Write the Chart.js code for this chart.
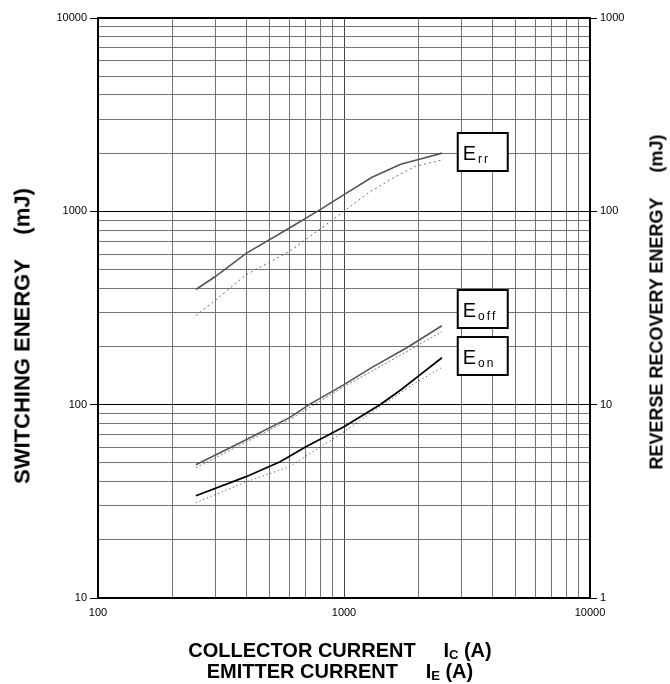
<!DOCTYPE html>
<html>
<head>
<meta charset="utf-8">
<title>Switching energy vs collector current</title>
<script src="https://cdn.jsdelivr.net/npm/chart.js@4.4.1/dist/chart.umd.min.js"></script>
<style>
  html, body { margin: 0; padding: 0; background: #fff; }
  #wrap { position: relative; width: 670px; height: 684px; font-family: "Liberation Sans", Arial, sans-serif; color: #000; }
  #chart { position: absolute; left: 0; top: 0; }
  .title { position: absolute; font-weight: bold; white-space: nowrap; font-size: 18px; line-height: 21px; }
  .rot { transform: translate(-50%, -50%) rotate(-90deg); }
  .xt { transform: translateX(-50%); font-size: 20px; }
  .title sub { font-size: 13px; vertical-align: -2px; }
</style>
</head>
<body>
<div id="wrap">
  <canvas id="chart" width="670" height="684"></canvas>
  <div class="title rot" style="left:22px; top:336px; font-size:22px;">SWITCHING ENERGY&nbsp;&nbsp;&nbsp;&nbsp;(mJ)</div>
  <div class="title rot" style="left:657px; top:302px;">REVERSE RECOVERY ENERGY&nbsp;&nbsp;&nbsp;&nbsp;&nbsp;(mJ)</div>
  <div class="title xt" style="left:340px; top:640px;">COLLECTOR CURRENT&nbsp;&nbsp;&nbsp;&nbsp;&nbsp;I<sub>C</sub> (A)</div>
  <div class="title xt" style="left:340px; top:661px;">EMITTER CURRENT&nbsp;&nbsp;&nbsp;&nbsp;&nbsp;I<sub>E</sub> (A)</div>
</div>
<script>
// Tick labels (major decades)
const xTickLabels = [100, 1000, 10000];
const leftTickLabels = [10, 100, 1000, 10000];
const rightTickLabels = [1, 10, 100, 1000];

// Err (reverse recovery energy, right axis, mJ)
const errSolidCurrent = [250, 300, 400, 600, 800, 1000, 1300, 1700, 2100, 2500];
const errSolidEnergy  = [39.4, 46, 60.6, 82, 102, 122, 150, 175, 188, 200];
const errDotCurrent   = [250, 300, 400, 600, 800, 1000, 1250, 1550, 1950, 2500];
const errDotEnergy    = [28.9, 34.7, 47, 62, 81, 100, 124, 146.5, 171, 184];

// Eoff (switching energy, left axis, mJ)
const eoffSolidCurrent = [250, 400, 600, 730, 1000, 1300, 1800, 2500];
const eoffSolidEnergy  = [48.9, 65.9, 85.7, 101, 127, 156, 197, 256];
const eoffDotCurrent   = [250, 400, 600, 1000, 1800, 2500];
const eoffDotEnergy    = [47.2, 64, 83.6, 124, 188, 239];

// Eon (switching energy, left axis, mJ)
const eonSolidCurrent = [250, 400, 550, 700, 1000, 1400, 1700, 2000, 2500];
const eonSolidEnergy  = [33.8, 42.4, 50.7, 60.6, 76.9, 100, 119, 140, 175];
const eonDotCurrent   = [250, 400, 600, 1000, 1400, 1900, 2500];
const eonDotEnergy    = [31.1, 39.9, 47.7, 72.4, 97.7, 127, 156];

const FONT = '"Liberation Sans", Arial, sans-serif';

function points(xs, ys) {
    return xs.map((x, i) => ({ x, y: ys[i] }));
}

// all 1..9 multiples between min and max, for the log grid
function logTicks(min, max) {
    const out = [];
    for (let d = min; d < max; d *= 10) {
        for (let m = 1; m < 10; m++) out.push({ value: m * d });
    }
    out.push({ value: max });
    return out;
}

function line(label, xs, ys, color, width, dash, axis) {
    return {
        label,
        data: points(xs, ys),
        borderColor: color,
        borderWidth: width,
        borderDash: dash,
        pointRadius: 0,
        fill: false,
        tension: 0,
        yAxisID: axis
    };
}

// frame round the plot area
const framePlugin = {
    id: 'frame',
    beforeDatasetsDraw(chart) {
        const { ctx, chartArea: a } = chart;
        ctx.save();
        ctx.strokeStyle = '#000';
        ctx.lineWidth = 2;
        ctx.strokeRect(a.left, a.top, a.right - a.left, a.bottom - a.top);
        ctx.restore();
    }
};

// boxed curve names E_rr, E_off, E_on
const namePlugin = {
    id: 'names',
    afterDatasetsDraw(chart) {
        const { ctx, scales } = chart;
        const names = [['rr', 2030], ['off', 314], ['on', 178]];
        const left = scales.x.getPixelForValue(2900);
        ctx.save();
        names.forEach(([sub, v]) => {
            const cy = scales.y.getPixelForValue(v);
            const top = Math.round(cy - 19);
            ctx.fillStyle = '#fff';
            ctx.fillRect(left, top, 50, 38);
            ctx.strokeStyle = '#000';
            ctx.lineWidth = 2;
            ctx.strokeRect(left, top, 50, 38);
            ctx.fillStyle = '#000';
            ctx.font = '20px ' + FONT;
            ctx.textBaseline = 'alphabetic';
            ctx.fillText('E', left + 5, cy + 8);
            let sx = left + 5 + ctx.measureText('E').width + 2;
            ctx.font = '12px ' + FONT;
            for (const ch of sub) {
                ctx.fillText(ch, sx, cy + 11);
                sx += ctx.measureText(ch).width + 2;
            }
        });
        ctx.restore();
    }
};

function gridColor(majors, majorColor) {
    return c => (c.tick && majors.includes(c.tick.value)) ? majorColor : '#747474';
}
function tickColor(majors) {
    return c => (c.tick && majors.includes(c.tick.value)) ? '#000' : 'rgba(0,0,0,0)';
}
function tickLabel(majors) {
    return v => majors.includes(v) ? String(v) : '';
}

const tickFont = { family: FONT, size: 11 };

new Chart(document.getElementById('chart'), {
    type: 'line',
    data: {
        datasets: [
            line('Err', errSolidCurrent, errSolidEnergy, '#555', 1.6, [], 'y2'),
            line('Err (typ)', errDotCurrent, errDotEnergy, '#666', 1, [2, 3], 'y2'),
            line('Eoff', eoffSolidCurrent, eoffSolidEnergy, '#555', 1.6, [], 'y'),
            line('Eoff (typ)', eoffDotCurrent, eoffDotEnergy, '#777', 1, [2, 2], 'y'),
            line('Eon', eonSolidCurrent, eonSolidEnergy, '#000', 1.8, [], 'y'),
            line('Eon (typ)', eonDotCurrent, eonDotEnergy, '#333', 1, [1, 3], 'y')
        ]
    },
    options: {
        responsive: false,
        animation: false,
        layout: { padding: { top: 18, left: 0, right: 0, bottom: 0 } },
        plugins: { legend: { display: false }, tooltip: { enabled: false } },
        scales: {
            x: {
                type: 'logarithmic',
                min: 100,
                max: 10000,
                afterBuildTicks: s => { s.ticks = logTicks(100, 10000); },
                afterFit: s => { s.height = 86; },
                grid: { color: gridColor(xTickLabels, '#444'), lineWidth: 1, drawTicks: false },
                border: { display: false },
                ticks: { autoSkip: false, maxRotation: 0, padding: 8, color: '#000', font: tickFont, callback: tickLabel(xTickLabels) }
            },
            y: {
                type: 'logarithmic',
                position: 'left',
                min: 10,
                max: 10000,
                afterBuildTicks: s => { s.ticks = logTicks(10, 10000); },
                afterFit: s => { s.width = 98; },
                grid: { color: gridColor(leftTickLabels, '#000'), lineWidth: 1, tickLength: 8, tickColor: tickColor(leftTickLabels) },
                border: { display: false },
                ticks: { autoSkip: false, padding: 3, color: '#000', font: tickFont, callback: tickLabel(leftTickLabels) }
            },
            y2: {
                type: 'logarithmic',
                position: 'right',
                min: 1,
                max: 1000,
                afterBuildTicks: s => { s.ticks = logTicks(1, 1000); },
                afterFit: s => { s.width = 80; },
                grid: { drawOnChartArea: false, tickLength: 7, tickColor: tickColor(rightTickLabels) },
                border: { display: false },
                ticks: { autoSkip: false, padding: 3, color: '#000', font: tickFont, callback: tickLabel(rightTickLabels) }
            }
        }
    },
    plugins: [framePlugin, namePlugin]
});
</script>
</body>
</html>
